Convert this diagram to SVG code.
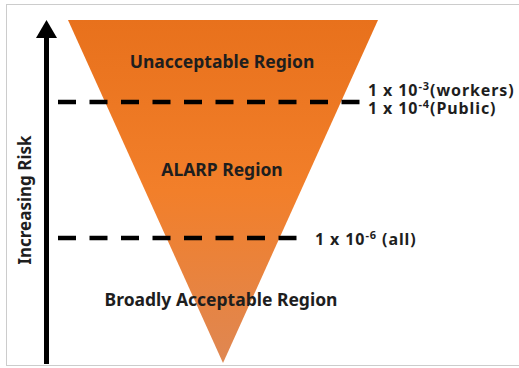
<svg xmlns="http://www.w3.org/2000/svg" width="519" height="368" viewBox="0 0 519 368">
<defs>
<linearGradient id="og" x1="0" y1="0" x2="0" y2="1">
<stop offset="0" stop-color="#E8711C"/>
<stop offset="0.5" stop-color="#F27F2A"/>
<stop offset="1" stop-color="#DF8752"/>
</linearGradient>
</defs>
<style>
.lbl{font-family:"Noto Sans","Open Sans","Liberation Sans",sans-serif;font-weight:bold;fill:#1e1e1e;font-size:17.5px}
.num{font-family:"Noto Sans","Open Sans","Liberation Sans",sans-serif;font-weight:bold;fill:#1e1e1e;font-size:16px;letter-spacing:0.9px}
.sup{font-size:11px}
.dash{stroke:#000;stroke-width:4.5;stroke-dasharray:18 13.5;fill:none}
</style>
<rect x="6.5" y="4.5" width="520" height="361" fill="#fff" stroke="#cccccc" stroke-width="1"/>
<g id="triangle">
<polygon points="68,20 378,20 223,363" fill="url(#og)"/>
</g>
<g id="regions">
<text class="lbl" x="222" y="68" text-anchor="middle">Unacceptable Region</text>
<text class="lbl" x="222" y="176" text-anchor="middle">ALARP Region</text>
<text class="lbl" x="221" y="306" text-anchor="middle">Broadly Acceptable Region</text>
</g>
<g id="axis">
<line x1="46.5" y1="36" x2="46.5" y2="364" stroke="#000" stroke-width="5"/>
<polygon points="46.5,20 36,38 57,38" fill="#000"/>
<text class="lbl" style="font-size:17px" text-anchor="middle" transform="translate(31,200) rotate(-90)">Increasing Risk</text>
</g>
<g id="connectors">
<line class="dash" x1="58" y1="102" x2="360" y2="102"/>
<line class="dash" x1="58" y1="238" x2="300" y2="238"/>
</g>
<g id="limits">
<text class="num" x="368" y="95.5">1 x 10<tspan class="sup" dy="-6">-3</tspan><tspan dy="6">(workers)</tspan></text>
<text class="num" x="368" y="114">1 x 10<tspan class="sup" dy="-6">-4</tspan><tspan dy="6">(Public)</tspan></text>
<text class="num" x="315" y="245">1 x 10<tspan class="sup" dy="-6">-6</tspan><tspan dy="6"> (all)</tspan></text>
</g>
</svg>
